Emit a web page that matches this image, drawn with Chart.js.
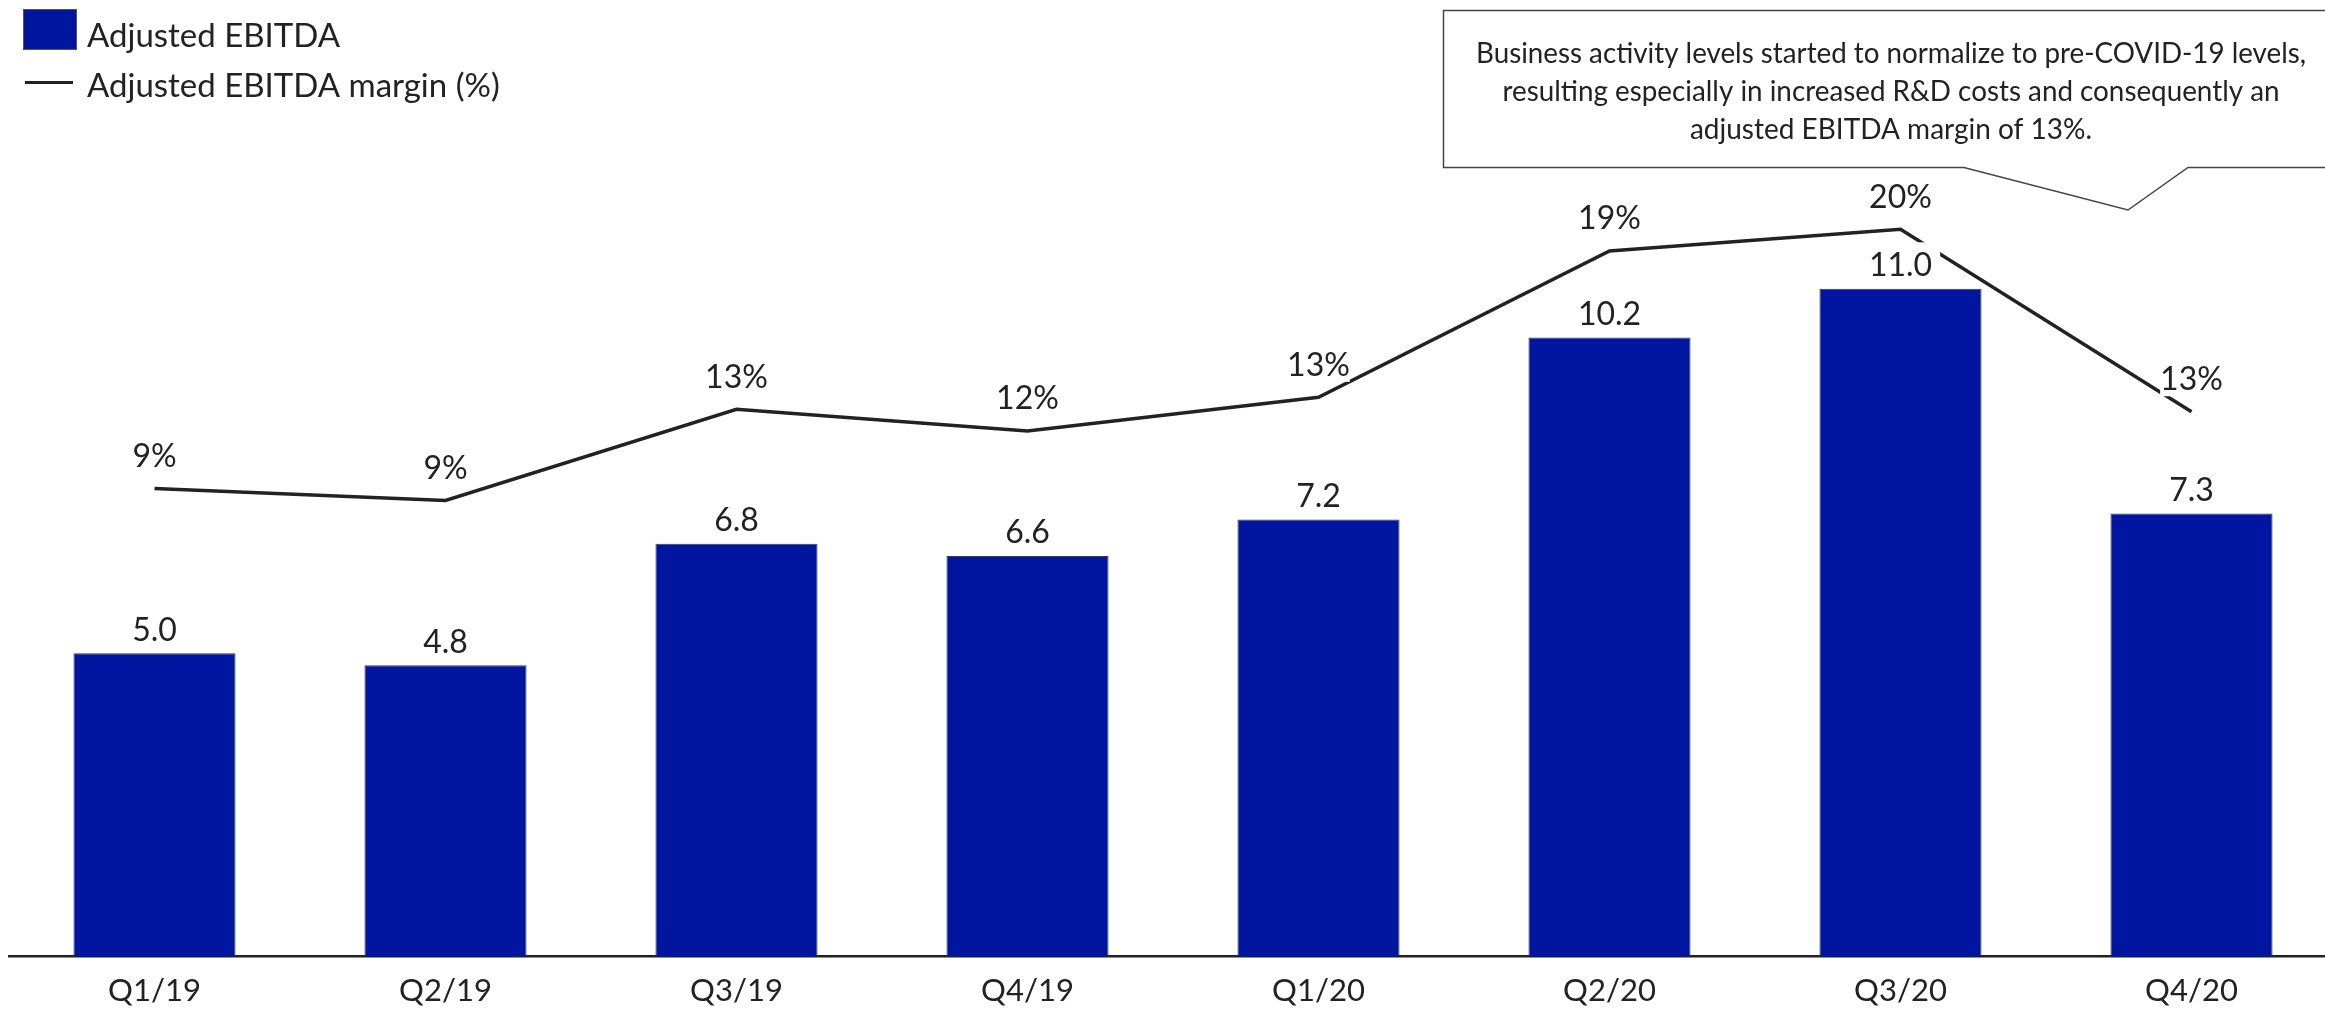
<!DOCTYPE html>
<html>
<head>
<meta charset="utf-8">
<title>Adjusted EBITDA</title>
<script src="https://cdn.jsdelivr.net/npm/chart.js@4.4.1/dist/chart.umd.min.js"></script>
<style>
  html, body { margin: 0; padding: 0; background: #fff; overflow: hidden; }
  #wrap { width: 2345px; height: 1010px; }
</style>
</head>
<body>
<div id="wrap"><canvas id="ebitdaChart" width="2345" height="1010"></canvas></div>
<script>
// quarterly figures
const quarters = ['Q1/19', 'Q2/19', 'Q3/19', 'Q4/19', 'Q1/20', 'Q2/20', 'Q3/20', 'Q4/20'];
const ebitda = [5.0, 4.8, 6.8, 6.6, 7.2, 10.2, 11.0, 7.3];
const ebitdaMargin = [9.4, 8.9, 12.7, 11.8, 13.2, 19.3, 20.2, 12.6];

const calloutLines = [
  'Business activity levels started to normalize to pre-COVID-19 levels,',
  'resulting especially in increased R&D costs and consequently an',
  'adjusted EBITDA margin of 13%.'
];

const barBlue = '#0015a0';
const ink = '#222222';
const fontFamily = 'Lato, "Open Sans", sans-serif';

// value labels sit on a white patch, so the line is cut where they overlap
const valueLabels = {
  id: 'valueLabels',
  afterDatasetsDraw(chart) {
    const ctx = chart.ctx;
    ctx.save();
    ctx.font = '32px ' + fontFamily;
    ctx.textAlign = 'center';
    ctx.textBaseline = 'alphabetic';
    chart.data.datasets.forEach((ds, i) => {
      const meta = chart.getDatasetMeta(i);
      meta.data.forEach((el, j) => {
        const v = ds.data[j];
        const isBar = ds.type === 'bar';
        const text = isBar ? v.toFixed(1) : Math.round(v) + '%';
        const y = isBar ? el.y - 12.5 : el.y - 21.5;
        const w = ctx.measureText(text).width;
        const padX = isBar ? 8 : 0;
        const padBottom = isBar ? 7 : 6;
        ctx.fillStyle = '#ffffff';
        ctx.fillRect(el.x - w / 2 - padX, y - 34, w + padX * 2, 34 + padBottom);
        ctx.fillStyle = ink;
        ctx.fillText(text, el.x, y);
      });
    });
    ctx.restore();
  }
};

// legend in the top left and the note box on the right
const extras = {
  id: 'extras',
  afterDraw(chart) {
    const ctx = chart.ctx;
    const sets = chart.data.datasets;
    ctx.save();

    ctx.fillStyle = barBlue;
    ctx.fillRect(23, 9, 53, 40);
    ctx.strokeStyle = '#555';
    ctx.lineWidth = 1;
    ctx.strokeRect(23.5, 9.5, 53, 40);
    ctx.strokeStyle = ink;
    ctx.lineWidth = 3;
    ctx.beginPath();
    ctx.moveTo(25, 82.5);
    ctx.lineTo(73, 82.5);
    ctx.stroke();

    ctx.fillStyle = ink;
    ctx.font = '33px ' + fontFamily;
    ctx.textAlign = 'left';
    ctx.textBaseline = 'alphabetic';
    ctx.fillText(sets[0].label, 87, 47);
    ctx.fillText(sets[1].label, 87, 96.5);

    // callout box with pointer
    ctx.beginPath();
    ctx.moveTo(2400, 10.5);
    ctx.lineTo(1443.5, 10.5);
    ctx.lineTo(1443.5, 167.5);
    ctx.lineTo(1964, 167.5);
    ctx.lineTo(2128, 210);
    ctx.lineTo(2188, 167.5);
    ctx.lineTo(2400, 167.5);
    ctx.fillStyle = '#ffffff';
    ctx.fill();
    ctx.strokeStyle = '#444';
    ctx.lineWidth = 1.5;
    ctx.stroke();

    ctx.fillStyle = ink;
    ctx.font = '28px ' + fontFamily;
    ctx.textAlign = 'center';
    const widths = [830, 777, 418];
    calloutLines.forEach((line, k) => {
      ctx.fillText(line, 1891, 63 + k * 38, widths[k]);
    });
    ctx.restore();
  }
};

function createChart() {
  const ctx = document.getElementById('ebitdaChart');
  new Chart(ctx, {
    data: {
      labels: quarters,
      datasets: [
        {
          type: 'bar',
          label: 'Adjusted EBITDA',
          data: ebitda,
          backgroundColor: barBlue,
          borderColor: '#3c3c3c',
          borderWidth: 1,
          barPercentage: 0.557,
          categoryPercentage: 1,
          yAxisID: 'y',
          order: 2
        },
        {
          type: 'line',
          label: 'Adjusted EBITDA margin (%)',
          data: ebitdaMargin,
          borderColor: ink,
          borderWidth: 3.5,
          borderJoinStyle: 'miter',
          pointRadius: 0,
          tension: 0,
          fill: false,
          yAxisID: 'y2',
          order: 1
        }
      ]
    },
    options: {
      responsive: false,
      animation: false,
      events: [],
      layout: { padding: { left: 9, right: 8, top: 46, bottom: 0 } },
      plugins: {
        legend: { display: false },
        tooltip: { enabled: false }
      },
      scales: {
        x: {
          grid: { display: false, drawTicks: false },
          border: { display: true, color: ink, width: 2.5 },
          ticks: {
            color: ink,
            font: { family: fontFamily, size: 31 },
            padding: 16,
            maxRotation: 0
          },
          afterFit(scale) { scale.height = 53.3; }
        },
        y: {
          display: false,
          min: 0,
          max: 15
        },
        y2: {
          display: false,
          min: -10.11,
          max: 27.84
        }
      }
    },
    plugins: [valueLabels, extras]
  });
}

document.fonts.load('32px Lato').then(createChart, createChart);
</script>
</body>
</html>
